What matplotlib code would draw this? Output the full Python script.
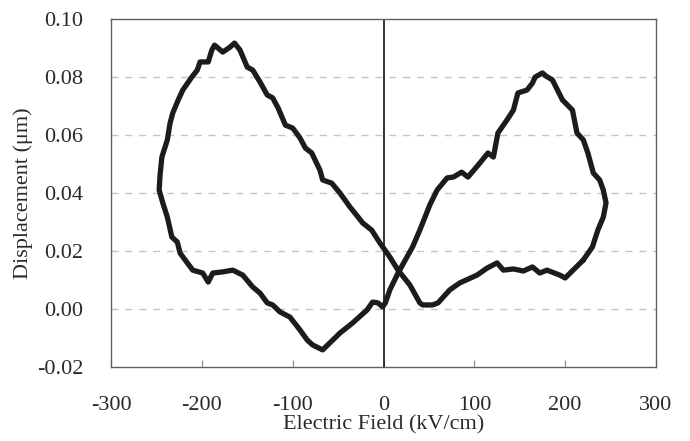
import matplotlib
matplotlib.use("Agg")
import matplotlib.pyplot as plt
from matplotlib.ticker import FuncFormatter

# Closed butterfly loop: electric field (kV/cm) and displacement (um)
field = [220, 230, 236, 242, 245, 242, 238, 231, 225, 220, 213, 208, 197, 186, 179, 175,
         167, 164, 158, 148, 143, 136, 126, 121, 115, 106, 93, 86, 77, 70, 59, 51, 40, 32,
         16, 7, 2, -1, -6, -12, -18, -34, -48, -67, -78, -84, -92, -103, -114, -122, -128,
         -136, -144, -155, -166, -177, -188, -193, -199, -210, -216, -224, -227, -233, -238,
         -243, -247, -246, -244, -238, -235, -232, -226, -221, -211, -205, -202, -193, -189,
         -186, -177, -169, -164, -158, -150, -144, -136, -128, -122, -116, -108, -100, -92,
         -86, -79, -70, -67, -57, -48, -37, -28, -23, -13, -4, 7, 16, 29, 40, 43, 54, 60,
         73, 84, 103, 114, 125, 132, 143, 154, 164, 172, 180, 194, 200, 211, 220]
displacement = [0.0169, 0.0214, 0.0272, 0.0317, 0.0366, 0.0410, 0.0445, 0.0469, 0.0538,
                0.0583, 0.0607, 0.0686, 0.0721, 0.0790, 0.0803, 0.0814, 0.0800, 0.0779,
                0.0755, 0.0745, 0.0686, 0.0652, 0.0607, 0.0524, 0.0538, 0.0503, 0.0455,
                0.0472, 0.0455, 0.0452, 0.0410, 0.0359, 0.0272, 0.0214, 0.0124, 0.0066,
                0.0021, 0.0007, 0.0021, 0.0024, -0.0003, -0.0048, -0.0083, -0.0141, -0.0124,
                -0.0107, -0.0072, -0.0028, -0.0010, 0.0014, 0.0021, 0.0055, 0.0076, 0.0117,
                0.0134, 0.0128, 0.0124, 0.0093, 0.0124, 0.0134, 0.0159, 0.0193, 0.0231,
                0.0248, 0.0317, 0.0366, 0.0410, 0.0462, 0.0524, 0.0583, 0.0641, 0.0676,
                0.0721, 0.0755, 0.0800, 0.0824, 0.0852, 0.0852, 0.0893, 0.0910, 0.0886,
                0.0903, 0.0917, 0.0893, 0.0834, 0.0824, 0.0783, 0.0738, 0.0728, 0.0693,
                0.0634, 0.0624, 0.0590, 0.0555, 0.0538, 0.0479, 0.0445, 0.0434, 0.0400,
                0.0352, 0.0317, 0.0297, 0.0272, 0.0228, 0.0179, 0.0134, 0.0083, 0.0021,
                0.0014, 0.0014, 0.0021, 0.0066, 0.0090, 0.0117, 0.0141, 0.0159, 0.0134,
                0.0138, 0.0131, 0.0145, 0.0124, 0.0134, 0.0117, 0.0107, 0.0141, 0.0169]

x_ticks = [-300, -200, -100, 0, 100, 200, 300]
y_ticks = [-0.02, 0.00, 0.02, 0.04, 0.06, 0.08, 0.10]
x_label = "Electric Field (kV/cm)"
y_label = "Displacement (\u03bcm)"

plt.rcParams['font.family'] = ['Liberation Serif', 'DejaVu Serif']

fig = plt.figure(figsize=(6.9, 4.41), dpi=100)
ax = fig.add_axes([0.1609, 0.1678, 0.7898, 0.7891])

ax.set_xlim(-300, 300)
ax.set_ylim(-0.02, 0.10)
ax.set_xticks(x_ticks)
ax.set_yticks(y_ticks)
ax.xaxis.set_major_formatter(FuncFormatter(lambda v, p: "%d" % v))
ax.yaxis.set_major_formatter(FuncFormatter(lambda v, p: ("%.2f" % v).replace("\u2212", "-")))

for yv in y_ticks[1:-1]:
    ax.axhline(yv, color="#c4c4c4", lw=1.0, ls=(0, (5, 5)), zorder=1)
ax.axvline(0, color="#222222", lw=1.3, zorder=2)

ax.plot(field, displacement, color="#1c1c1c", lw=3.8, solid_joinstyle="round",
        solid_capstyle="round", zorder=3)

for s in ax.spines.values():
    s.set_color("#606060")
    s.set_linewidth(1.0)

ax.tick_params(axis="x", direction="in", length=5, width=0.8, color="#888888",
               labelsize=16, pad=21, labelcolor="#2a2a2a")
ax.tick_params(axis="y", length=0, labelsize=16, pad=20, labelcolor="#2a2a2a")

ax.set_xlabel(x_label, fontsize=16, color="#2a2a2a", labelpad=0)
ax.set_ylabel(y_label, fontsize=16, color="#2a2a2a", labelpad=3)

fig.savefig("out.png", dpi=100, facecolor="white")
